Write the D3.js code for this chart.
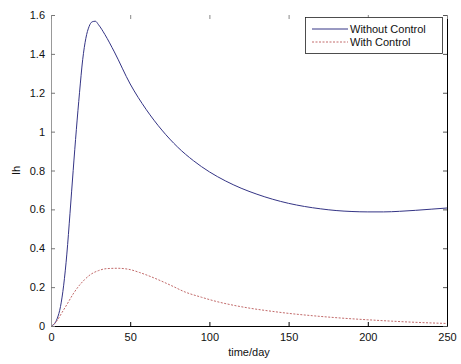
<!DOCTYPE html>
<html>
<head>
<meta charset="utf-8">
<script src="https://cdn.jsdelivr.net/npm/d3@7"></script>
<style>
  html, body { margin: 0; padding: 0; background: #fff; }
  svg { display: block; font-family: "Liberation Sans", Arial, sans-serif; }
</style>
</head>
<body>
<svg id="chart" width="461" height="364"></svg>
<script>
// Infected humans (Ih) over time, with and without control
const daysNoControl = [0, 2, 4, 6, 8, 10, 12, 14, 16, 18, 20, 22, 24, 26, 28, 30, 34, 40, 50, 60, 70, 80, 90, 100, 110, 120, 130, 140, 150, 160, 170, 180, 190, 200, 210, 220, 230, 240, 250];
const ihNoControl = [0, 0.01, 0.04, 0.1, 0.21, 0.37, 0.58, 0.8, 1.01, 1.2, 1.37, 1.48, 1.54, 1.565, 1.568, 1.55, 1.5, 1.41, 1.245, 1.115, 1.008, 0.92, 0.85, 0.793, 0.747, 0.709, 0.678, 0.652, 0.631, 0.615, 0.603, 0.594, 0.589, 0.587, 0.587, 0.59, 0.595, 0.601, 0.607];

const daysControl = [0, 2, 4, 7, 10, 14, 18, 21, 25, 30, 35, 42, 50, 56, 63, 70, 77, 84, 95, 105, 115, 126, 140, 150, 165, 175, 190, 200, 215, 230, 250];
const ihControl = [0, 0.01, 0.03, 0.07, 0.11, 0.165, 0.21, 0.237, 0.265, 0.285, 0.295, 0.297, 0.29, 0.275, 0.254, 0.23, 0.204, 0.177, 0.148, 0.125, 0.107, 0.091, 0.075, 0.065, 0.053, 0.046, 0.037, 0.032, 0.025, 0.019, 0.013];

const xTicks = [0, 50, 100, 150, 200, 250];
const yTicks = [0, 0.2, 0.4, 0.6, 0.8, 1, 1.2, 1.4, 1.6];
const seriesNames = ["Without Control", "With Control"];

const svg = d3.select("#chart");
const plotL = 51, plotR = 447, plotT = 15, plotB = 326;

const x = d3.scaleLinear().domain([0, 250]).range([plotL, plotR]);
const y = d3.scaleLinear().domain([0, 1.6]).range([plotB, plotT]);

const series = [
  { name: seriesNames[0], days: daysNoControl, vals: ihNoControl, color: "#343485", dash: null, width: 1 },
  { name: seriesNames[1], days: daysControl, vals: ihControl, color: "#c26a6a", dash: "2,1.5", width: 1 }
];

const line = d3.line()
  .x(d => x(d[0]))
  .y(d => y(d[1]))
  .curve(d3.curveMonotoneX);

series.forEach(s => {
  svg.append("path")
    .datum(s.days.map((d, i) => [d, s.vals[i]]))
    .attr("d", line)
    .attr("fill", "none")
    .attr("stroke", s.color)
    .attr("stroke-width", s.width)
    .attr("stroke-dasharray", s.dash);
});

// Axes (ticks point inward)
const fmt = d => String(+d.toFixed(1));
const tickLen = 4;

const xAxis = svg.append("g").attr("transform", `translate(0,${plotB})`)
  .call(d3.axisBottom(x).tickValues(xTicks).tickSizeInner(-tickLen).tickSizeOuter(0).tickPadding(7).tickFormat(fmt));
xAxis.select(".domain").attr("stroke", "#000");
xAxis.selectAll(".tick line").attr("stroke", "#000");

const yAxis = svg.append("g").attr("transform", `translate(${plotL},0)`)
  .call(d3.axisLeft(y).tickValues(yTicks).tickSizeInner(-tickLen).tickSizeOuter(0).tickPadding(6).tickFormat(fmt));
yAxis.select(".domain").attr("stroke", "#999");
yAxis.selectAll(".tick line").attr("stroke", "#777");

const rAxis = svg.append("g").attr("transform", `translate(${plotR},0)`)
  .call(d3.axisRight(y).tickValues(yTicks).tickSizeInner(-tickLen).tickSizeOuter(0).tickFormat(""));
rAxis.select(".domain").attr("stroke", "#000");
rAxis.selectAll(".tick line").attr("stroke", "#555");

const tAxis = svg.append("g").attr("transform", `translate(0,${plotT})`)
  .call(d3.axisTop(x).tickValues(xTicks).tickSizeInner(-tickLen).tickSizeOuter(0).tickFormat(""));
tAxis.select(".domain").remove();
tAxis.selectAll(".tick line").attr("stroke", "#888");

svg.selectAll(".tick text").attr("font-size", 11).attr("fill", "#111")
  .attr("font-family", "'Liberation Sans', Arial, sans-serif");

// Axis labels
svg.append("text")
  .attr("x", (plotL + plotR) / 2).attr("y", 356)
  .attr("text-anchor", "middle").attr("font-size", 11).attr("fill", "#111")
  .text("time/day");

svg.append("text")
  .attr("transform", `translate(20,${(plotT + plotB) / 2}) rotate(-90)`)
  .attr("text-anchor", "middle").attr("font-size", 11).attr("fill", "#111")
  .text("Ih");

// Legend
const lg = svg.append("g");
lg.append("rect")
  .attr("x", 305.5).attr("y", 17.5).attr("width", 137).attr("height", 36)
  .attr("fill", "#fff").attr("stroke", "#222").attr("stroke-width", 0.8);
series.forEach((s, i) => {
  const ly = 29 + i * 13;
  lg.append("line")
    .attr("x1", 312).attr("x2", 348).attr("y1", ly).attr("y2", ly)
    .attr("stroke", s.color).attr("stroke-width", 1).attr("stroke-dasharray", s.dash);
  lg.append("text")
    .attr("x", 350).attr("y", ly + 4)
    .attr("font-size", 11).attr("fill", "#111")
    .text(s.name);
});
</script>
</body>
</html>
